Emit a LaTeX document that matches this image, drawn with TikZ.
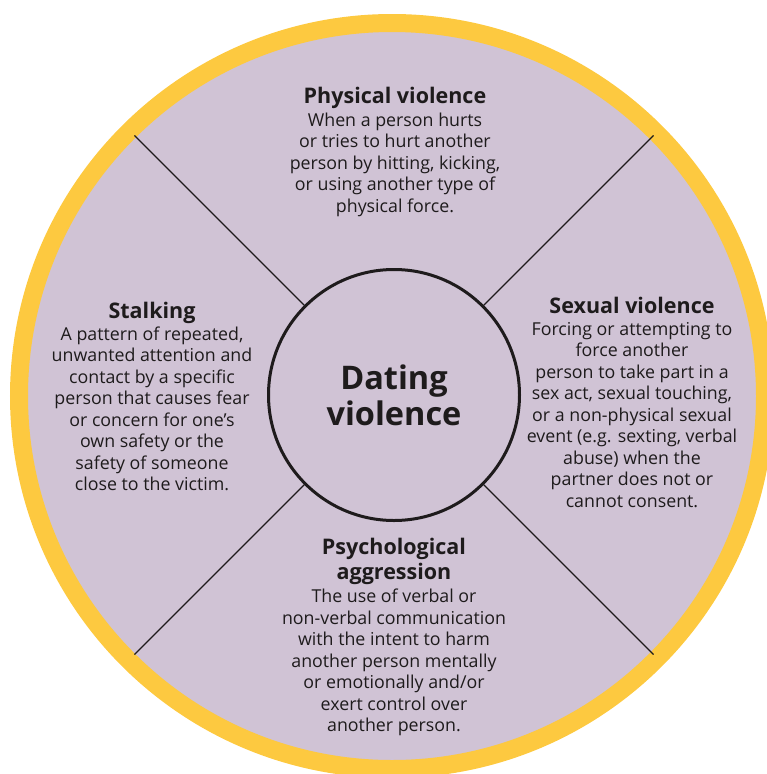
\documentclass[tikz,border=0pt]{standalone}
\usepackage{fontspec}
\setmainfont{Open Sans}

\definecolor{ringyellow}{HTML}{FDC940}
\definecolor{wheelfill}{HTML}{D0C3D5}
\definecolor{inkdark}{HTML}{1E1B1C}

\newcommand*{\wheelr}{373pt}
\newcommand*{\spoker}{367pt}
\newcommand*{\headfont}{\bfseries\fontsize{21.5}{24}\selectfont}

\begin{document}
\begin{tikzpicture}
[
	x=1pt,
	y=-1pt,
	hub/.style={circle,draw=inkdark,line width=3pt,fill=wheelfill,inner sep=0pt,minimum size=251pt,
		align=center,text=inkdark,font=\bfseries\fontsize{32.5}{36}\selectfont},
	spoke/.style={draw=inkdark,line width=1.3pt},
	blurb/.style={anchor=north,inner sep=0pt,align=center,text=inkdark,font=\fontsize{17.8}{21.5}\selectfont}
]

	\useasboundingbox (0,0) rectangle (767,774);

	% outer wheel with yellow rim
	\coordinate (mid) at (392,396);
	\draw[ringyellow,line width=18pt,fill=wheelfill] (mid) circle (\wheelr);

	% centre circle
	\node[hub] (hub) at (394,395) {Dating\\violence};

	% spokes
	\foreach \ang/\nm in {45/ne,135/nw,225/sw,315/se} {
		\coordinate (rim\nm) at ([shift={(\ang:\spoker)}]hub.center);
		\draw[spoke] (hub.\ang) -- (rim\nm);
	}

	% quadrant texts
	\node[blurb] (physical) at (395,87) {{\headfont Physical violence}\\[1pt]
		When a person hurts\\
		or tries to hurt another\\
		person by hitting, kicking,\\
		or using another type of\\
		physical force.};
	\node[blurb] (stalking) at (152,302) {{\headfont Stalking}\\
		A pattern of repeated,\\
		unwanted attention and\\
		contact by a specific\\
		person that causes fear\\
		or concern for one’s\\
		own safety or the\\
		safety of someone\\
		close to the victim.};
	\node[blurb] (sexual) at (632,297) {{\headfont Sexual violence}\\
		Forcing or attempting to\\
		force another\\
		person to take part in a\\
		sex act, sexual touching,\\
		or a non-physical sexual\\
		event (e.g. sexting, verbal\\
		abuse) when the\\
		partner does not or\\
		cannot consent.};
	\node[blurb] (psych) at (394,538) {{\headfont Psychological}\\[3pt]
		{\headfont aggression}\\[2pt]
		The use of verbal or\\
		non-verbal communication\\
		with the intent to harm\\
		another person mentally\\
		or emotionally and/or\\
		exert control over\\
		another person.};

\end{tikzpicture}
\end{document}
